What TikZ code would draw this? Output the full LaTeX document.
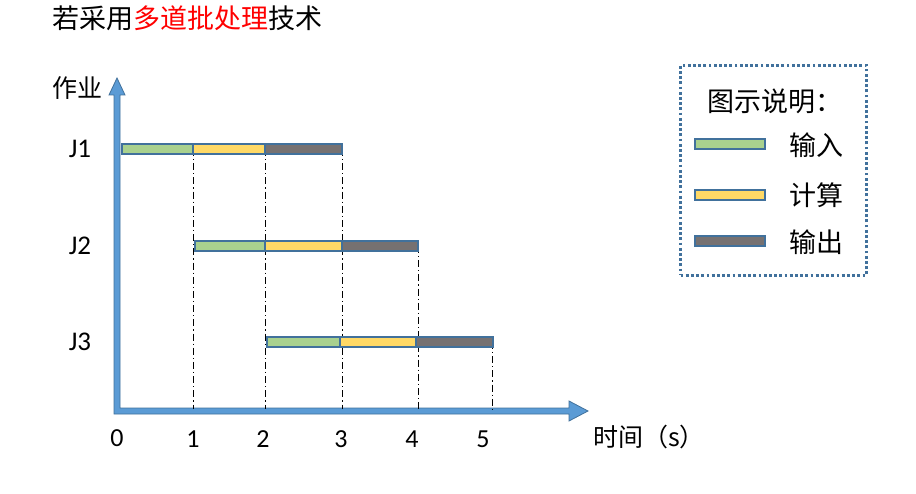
\documentclass[tikz,border=0pt]{standalone}
\usepackage{fontspec}
\setmainfont{Carlito}
\newfontfamily\cjk{Noto Sans CJK SC}
\definecolor{axisblue}{HTML}{5B9BD5}
\definecolor{edgeblue}{HTML}{41719C}
\definecolor{ginput}{HTML}{A9D18E}
\definecolor{gcalc}{HTML}{FFD966}
\definecolor{gout}{HTML}{767171}
\definecolor{titlered}{HTML}{FF0000}
\tikzset{
  bar/.style={draw=edgeblue, line width=1.5pt, minimum height=10pt, inner sep=0pt, outer sep=0pt},
  guide/.style={black, line width=0.9pt, dash pattern=on 7pt off 3pt on 1.2pt off 3pt},
  jlab/.style={font=\fontsize{27}{27}\selectfont},
  tick/.style={font=\fontsize{26}{26}\selectfont},
  cjklab/.style={font=\cjk\fontsize{25}{25}\selectfont},
  legtext/.style={font=\cjk\fontsize{27}{27}\selectfont, anchor=west, inner sep=0pt},
  legbar/.style={bar, minimum width=70pt}
}
\begin{document}
\begin{tikzpicture}[x=1pt,y=-1pt]
\useasboundingbox (0,0) rectangle (916,494);
% title
\node[anchor=west, font=\cjk\fontsize{27}{27}\selectfont, inner sep=0pt] (title) at (52,18)
  {若采用\textcolor{titlered}{多道批处理}技术};
% axes as block arrow
\filldraw[fill=axisblue, draw=edgeblue, line width=0.8pt]
  (114,414) -- (114,95) -- (109,95) -- (117,78) -- (125,95) -- (120,95) -- (120,408)
  -- (569,408) -- (569,401) -- (588,411) -- (569,421) -- (569,414) -- cycle;
\node[cjklab] (ylab) at (77,88) {作业};
\node[cjklab, anchor=west, inner sep=0pt] (xlab) at (593,437) {时间（s）};
% axis coordinates
\coordinate (t1) at (193,409);
\coordinate (t2) at (265,409);
\coordinate (t3) at (342,409);
\coordinate (t4) at (418,409);
\coordinate (t5) at (492,409);
% tick labels
\node[tick] (n0) at (117,438) {0};
\node[tick] (n1) at (193,439) {1};
\node[tick] (n2) at (263,439) {2};
\node[tick] (n3) at (341,439) {3};
\node[tick] (n4) at (412,439) {4};
\node[tick] (n5) at (483,439) {5};
% job labels
\node[jlab] (J1) at (80,149) {J1};
\node[jlab] (J2) at (80,246) {J2};
\node[jlab] (J3) at (80,342) {J3};
% guides
\coordinate (g1) at (193,149);
\coordinate (g2) at (265,149);
\coordinate (g3) at (342,149);
\coordinate (g4) at (418,246);
\coordinate (g5) at (492,342);
\draw[guide] (g1) -- (t1);
\draw[guide] (g2) -- (t2);
\draw[guide] (g3) -- (t3);
\draw[guide] (g4) -- (t4);
\draw[guide] (g5) -- (t5);
% bars J1
\node[bar, fill=ginput, minimum width=71pt] (j1a) at (157.5,149) {};
\node[bar, fill=gcalc, minimum width=72pt] (j1b) at (229,149) {};
\node[bar, fill=gout, minimum width=77pt] (j1c) at (303.5,149) {};
% bars J2
\node[bar, fill=ginput, minimum width=70pt] (j2a) at (230,246) {};
\node[bar, fill=gcalc, minimum width=77pt] (j2b) at (303.5,246) {};
\node[bar, fill=gout, minimum width=76pt] (j2c) at (380,246) {};
% bars J3
\node[bar, fill=ginput, minimum width=73pt] (j3a) at (303.5,342) {};
\node[bar, fill=gcalc, minimum width=76pt] (j3b) at (378,342) {};
\node[bar, fill=gout, minimum width=77pt] (j3c) at (454.5,342) {};
% legend
\node[draw=edgeblue, line width=2.8pt, dash pattern=on 2.8pt off 2.4pt, minimum width=186pt, minimum height=210pt, inner sep=0pt] (legend) at (773.5,170.5) {};
\node[legtext] (legtitle) at (707,101) {图示说明：};
\node[legbar, fill=ginput] (lb1) at (730,144) {};
\node[legbar, fill=gcalc] (lb2) at (730,195) {};
\node[legbar, fill=gout] (lb3) at (730,241) {};
\node[legtext] (lt1) at (789,145) {输入};
\node[legtext] (lt2) at (789,195) {计算};
\node[legtext] (lt3) at (789,242) {输出};
\end{tikzpicture}
\end{document}
